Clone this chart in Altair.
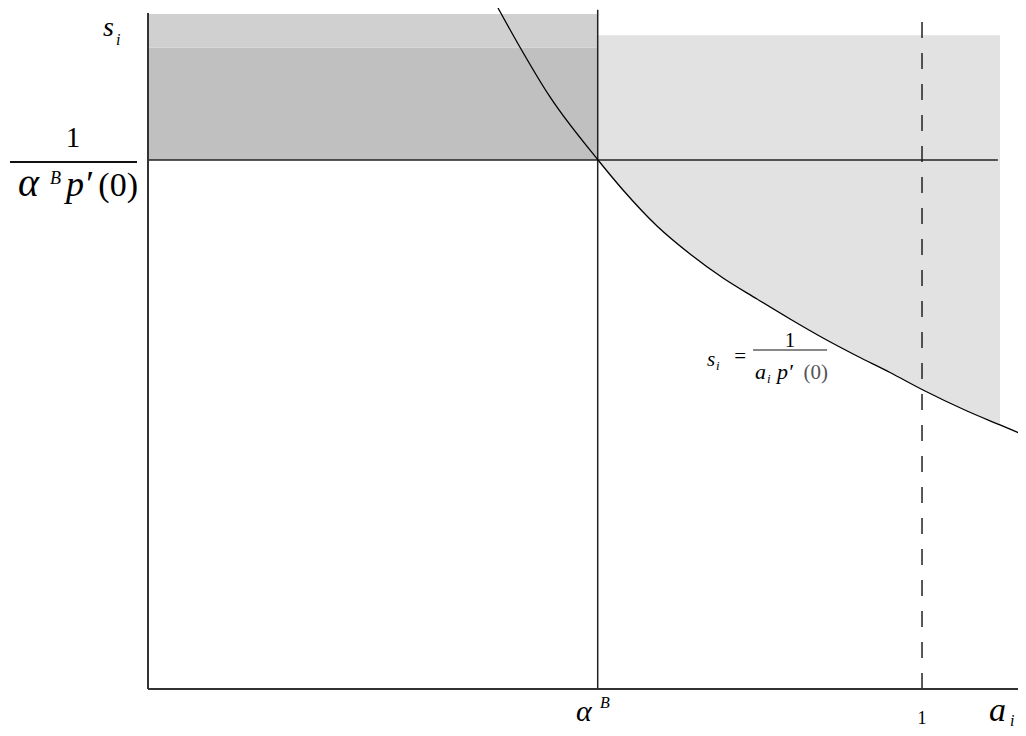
import altair as alt
import pandas as pd

# ---- data (a = horizontal, s = vertical) ----
alpha_B = 0.581          # position of alpha^B on the a axis
a_one = 1.0              # position of the dashed line a_i = 1
s_star = 1.0             # level 1/(alpha^B p'(0))

curve_a = [0.4522, 0.4767, 0.5194, 0.5814, 0.6137, 0.6576, 0.7003, 0.7429, 0.7868,
           0.8295, 0.8721, 0.9160, 0.9587, 1.0013, 1.0581, 1.1008, 1.1344]
curve_s = [1.2873, 1.2231, 1.1191, 1.0000, 0.9433, 0.8752, 0.8223, 0.7769, 0.7372,
           0.6994, 0.6635, 0.6295, 0.5983, 0.5652, 0.5255, 0.4991, 0.4783]

light_top = 1.236        # top of the light shaded region
light_right = 1.1008     # right edge of the light shaded region
dark_top = 1.212         # top of the solid dark region
dark_cloud_top = 1.276   # top of the speckled band
h_line_end = 1.098
v_line_top = 1.284
y_axis_top = 1.278
x_max = 1.124
y_max = 1.2873

# text pieces: text, a, s, size, italic, align, colour
txt = ["s", "i", "1", "\u03b1", "B", "p\u2032", "(0)",
       "\u03b1", "B", "1", "a", "i",
       "s", "i", "=", "1", "a", "i", "p\u2032", "(0)"]
txt_a = [-0.0581, -0.0413, -0.0969, -0.1680, -0.1266, -0.1059, -0.0129,
         0.5530, 0.5840, 1.0000, 1.0866, 1.1137,
         0.7222, 0.7339, 0.7649, 0.8295, 0.7842, 0.7997, 0.8127, 0.8786]
txt_s = [1.2344, 1.2174, 1.0246, 0.9319, 0.9546, 0.9319, 0.9319,
         -0.0605, -0.0359, -0.0662, -0.0605, -0.0699,
         0.6106, 0.6030, 0.6163, 0.6465, 0.5860, 0.5784, 0.5860, 0.5860]
txt_size = [28, 16, 29, 40, 18, 36, 34,
            30, 16, 18, 34, 16,
            21, 13, 21, 21, 22, 13, 22, 21]
txt_italic = [1, 1, 0, 1, 1, 1, 0,
              1, 1, 0, 1, 1,
              1, 1, 0, 0, 1, 1, 1, 0]
txt_align = ["left", "left", "center", "left", "left", "left", "right",
             "left", "left", "center", "left", "left",
             "left", "left", "center", "center", "left", "left", "left", "right"]
txt_color = ["#000"] * 19 + ["#555"]

# fraction bars: a1, a2, s
bar_a1 = [-0.1783, 0.7817]
bar_a2 = [-0.0142, 0.8773]
bar_s = [0.9962, 0.6408]
bar_w = [2.0, 1.0]

# ---- tables ----
curve = pd.DataFrame({"a": curve_a, "s": curve_s})
light = curve[(curve.a >= alpha_B) & (curve.a <= light_right)].copy()
light["top"] = light_top
texts = pd.DataFrame({"t": txt, "a": txt_a, "s": txt_s, "size": txt_size,
                      "it": txt_italic, "al": txt_align, "col": txt_color})
bars = pd.DataFrame({"a1": bar_a1, "a2": bar_a2, "s": bar_s, "w": bar_w})
rects = pd.DataFrame({"a1": [0, 0], "a2": [alpha_B, alpha_B],
                      "s1": [s_star, dark_top], "s2": [dark_top, dark_cloud_top],
                      "c": ["#c0c0c0", "#d0d0d0"]})
thin = pd.DataFrame({"a1": [0, alpha_B], "a2": [h_line_end, alpha_B],
                     "s1": [s_star, 0], "s2": [s_star, v_line_top]})
dashed = pd.DataFrame({"a1": [a_one], "a2": [a_one], "s1": [0], "s2": [v_line_top]})
axes = pd.DataFrame({"a1": [0, 0], "a2": [0, x_max], "s1": [0, 0], "s2": [y_axis_top, 0]})

xs = alt.Scale(domain=[0, x_max], nice=False, zero=False)
ys = alt.Scale(domain=[0, y_max], nice=False, zero=False)
FONT = "Liberation Serif, DejaVu Serif, Times New Roman, serif"


def seg(df, **kw):
    return alt.Chart(df).mark_rule(**kw).encode(
        x=alt.X("a1:Q", scale=xs, axis=None), x2="a2:Q",
        y=alt.Y("s1:Q", scale=ys, axis=None), y2="s2:Q")


dark = alt.Chart(rects).mark_rect().encode(
    x=alt.X("a1:Q", scale=xs, axis=None), x2="a2:Q",
    y=alt.Y("s1:Q", scale=ys, axis=None), y2="s2:Q",
    color=alt.Color("c:N", scale=None))

light_area = alt.Chart(light).mark_area(color="#e2e2e2", interpolate="monotone").encode(
    x=alt.X("a:Q", scale=xs, axis=None),
    y=alt.Y("s:Q", scale=ys, axis=None), y2="top:Q")

curve_line = alt.Chart(curve).mark_line(
    color="#000", strokeWidth=1.3, interpolate="monotone", clip=True).encode(
    x=alt.X("a:Q", scale=xs, axis=None),
    y=alt.Y("s:Q", scale=ys, axis=None), order="a:Q")

frac = alt.Chart(bars).mark_rule(color="#111").encode(
    x=alt.X("a1:Q", scale=xs, axis=None), x2="a2:Q",
    y=alt.Y("s:Q", scale=ys, axis=None),
    strokeWidth=alt.StrokeWidth("w:Q", scale=None))

text_layers = []
for it in (0, 1):
    for al in ("left", "center", "right"):
        sub = texts[(texts.it == it) & (texts.al == al)]
        if len(sub) == 0:
            continue
        text_layers.append(
            alt.Chart(sub).mark_text(
                font=FONT, fontStyle="italic" if it else "normal",
                align=al, baseline="alphabetic").encode(
                x=alt.X("a:Q", scale=xs, axis=None),
                y=alt.Y("s:Q", scale=ys, axis=None),
                text="t:N",
                size=alt.Size("size:Q", scale=None),
                color=alt.Color("col:N", scale=None)))

chart = alt.layer(
    dark, light_area,
    seg(thin, color="#222", strokeWidth=1.5),
    seg(dashed, color="#222", strokeWidth=1.5, strokeDash=[16, 15]),
    seg(axes, color="#333", strokeWidth=2),
    curve_line, frac, *text_layers
).properties(
    width=870, height=681,
    autosize=alt.AutoSizeParams(type="none"),
    padding={"left": 140, "top": 0, "right": 0, "bottom": 39},
    background="white"
).configure_view(stroke=None)

chart.save("out.html", embed_options={"renderer": "svg", "actions": False})
